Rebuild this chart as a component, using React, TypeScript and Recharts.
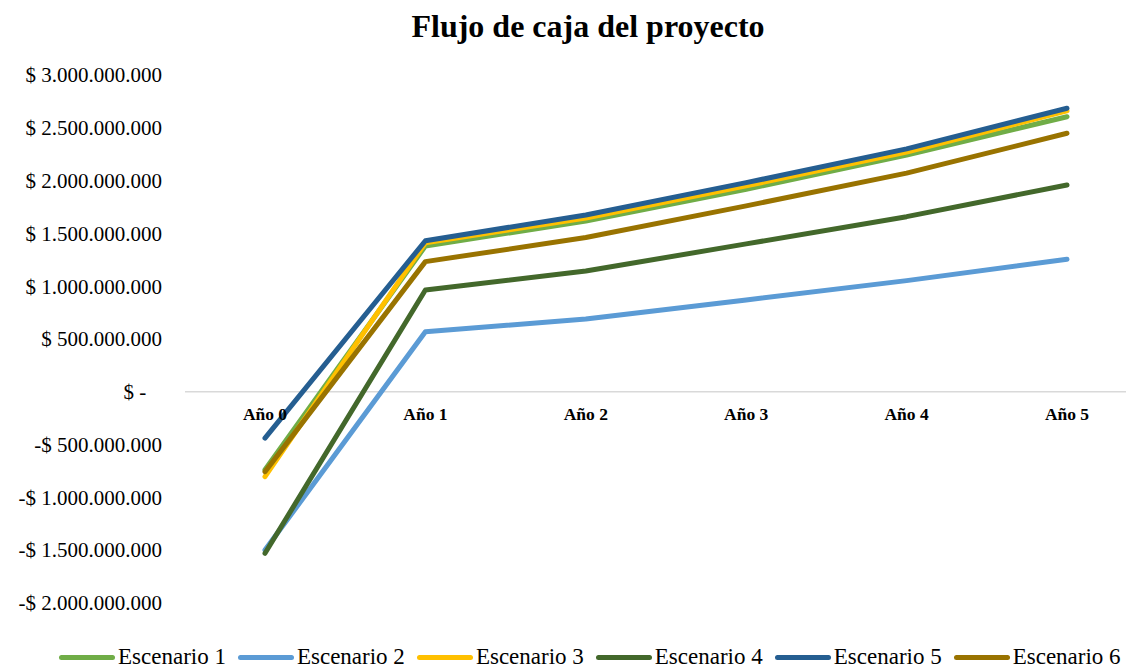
import { LineChart, Line, XAxis, YAxis, ReferenceLine } from 'recharts';

const years = ['Año 0', 'Año 1', 'Año 2', 'Año 3', 'Año 4', 'Año 5'];

// values in pesos
const escenario1 = [-740e6, 1380e6, 1617e6, 1917e6, 2242e6, 2605e6];
const escenario2 = [-1500e6, 568e6, 689e6, 869e6, 1052e6, 1254e6];
const escenario3 = [-805e6, 1410e6, 1645e6, 1950e6, 2270e6, 2660e6];
const escenario4 = [-1531e6, 963e6, 1143e6, 1400e6, 1658e6, 1958e6];
const escenario5 = [-440e6, 1430e6, 1674e6, 1980e6, 2300e6, 2685e6];
const escenario6 = [-758e6, 1232e6, 1460e6, 1760e6, 2070e6, 2448e6];

const yTicks = [-2e9, -1.5e9, -1e9, -5e8, 0, 5e8, 1e9, 1.5e9, 2e9, 2.5e9, 3e9];

const SERIES = [
  { key: 'Escenario 1', values: escenario1, color: '#70AD47' },
  { key: 'Escenario 2', values: escenario2, color: '#5B9BD5' },
  { key: 'Escenario 3', values: escenario3, color: '#FFC000' },
  { key: 'Escenario 4', values: escenario4, color: '#43682B' },
  { key: 'Escenario 5', values: escenario5, color: '#255E91' },
  { key: 'Escenario 6', values: escenario6, color: '#997300' },
];

const data = years.map((year, i) => {
  const row: Record<string, string | number> = { year };
  SERIES.forEach(s => { row[s.key] = s.values[i]; });
  return row;
});

const FONT = "'Liberation Serif', 'Times New Roman', serif";
const CHART_W = 1170;
const CHART_H = 670;
const PLOT_TOP = 75;
const PLOT_BOTTOM = 602.8;
const ZERO_Y = PLOT_TOP + (PLOT_BOTTOM - PLOT_TOP) * (3 / 5);

function formatPesos(v: number) {
  if (v === 0) return '$ -\u00A0\u00A0\u00A0';
  const s = Math.abs(v).toString().replace(/\B(?=(\d{3})+(?!\d))/g, '.');
  return (v < 0 ? '-$ ' : '$ ') + s;
}

function YearTick({ x, payload }: any) {
  return (
    <text x={x} y={ZERO_Y + 28} textAnchor="middle" fontFamily={FONT} fontWeight="bold" fontSize={17.5} fill="#000">
      {payload.value}
    </text>
  );
}

export default function App() {
  return (
    <div style={{ position: 'absolute', left: 0, top: 0, width: 1126, height: 670, overflow: 'hidden', background: '#fff', fontFamily: FONT }}>
      <div style={{ position: 'absolute', left: 0, top: 10, width: 1176, textAlign: 'center', fontSize: 32, lineHeight: '32px', fontWeight: 'bold', color: '#000' }}>
        Flujo de caja del proyecto
      </div>
      <LineChart width={CHART_W} height={CHART_H} data={data} margin={{ top: PLOT_TOP, right: 23, left: 0, bottom: CHART_H - PLOT_BOTTOM - 1 }}>
        <XAxis dataKey="year" height={1} axisLine={false} tickLine={false} tick={<YearTick />} interval={0} padding={{ left: 80, right: 80 }} />
        <YAxis
          width={185}
          domain={[-2e9, 3e9]}
          ticks={yTicks}
          tickFormatter={formatPesos}
          axisLine={false}
          tickLine={false}
          tickSize={0}
          tickMargin={23}
          tick={{ fontFamily: FONT, fontSize: 21, fill: '#000' }}
          interval={0}
        />
        <ReferenceLine y={0} stroke="#D9D9D9" strokeWidth={1.5} />
        {SERIES.map(s => (
          <Line
            key={s.key}
            dataKey={s.key}
            type="linear"
            stroke={s.color}
            strokeWidth={5}
            strokeLinecap="round"
            strokeLinejoin="round"
            dot={false}
            isAnimationActive={false}
          />
        ))}
      </LineChart>
      <div style={{ position: 'absolute', left: 59, top: 644, height: 26, display: 'flex', alignItems: 'center', gap: 12, fontSize: 23, color: '#000', whiteSpace: 'nowrap' }}>
        {SERIES.map(s => (
          <div key={s.key} style={{ display: 'flex', alignItems: 'center' }}>
            <span style={{ display: 'inline-block', width: 56, height: 5, borderRadius: 3, background: s.color, marginRight: 3 }} />
            <span>{s.key}</span>
          </div>
        ))}
      </div>
    </div>
  );
}
